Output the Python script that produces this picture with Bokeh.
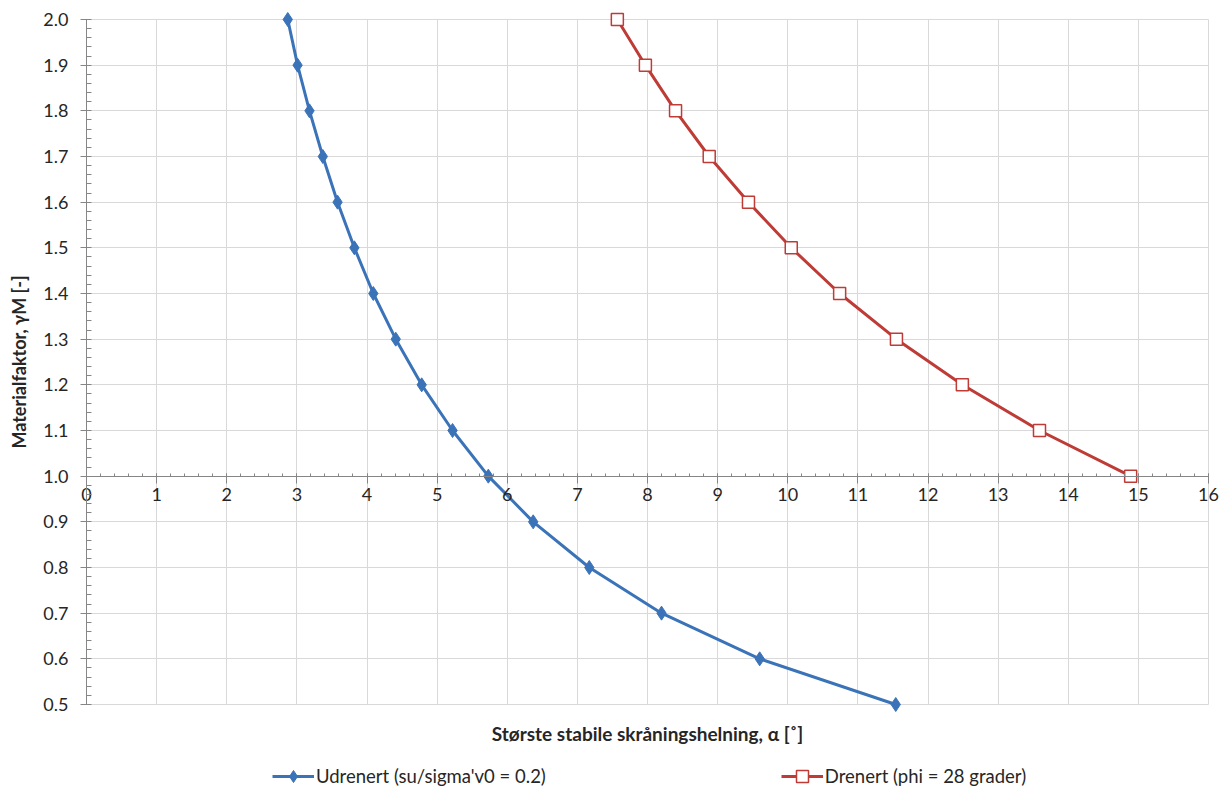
import math
from bokeh.plotting import figure
from bokeh.models import Legend, LegendItem, NumeralTickFormatter, FixedTicker, Label
from bokeh.embed import file_html
from bokeh.resources import INLINE

# Data
gamma_udrenert = [2.0, 1.9, 1.8, 1.7, 1.6, 1.5, 1.4, 1.3, 1.2, 1.1, 1.0, 0.9, 0.8, 0.7, 0.6, 0.5]
alpha_udrenert = [2.87, 3.01, 3.18, 3.37, 3.58, 3.82, 4.09, 4.41, 4.78, 5.22, 5.73, 6.37, 7.17, 8.20, 9.60, 11.54]
gamma_drenert = [2.0, 1.9, 1.8, 1.7, 1.6, 1.5, 1.4, 1.3, 1.2, 1.1, 1.0]
alpha_drenert = [7.57, 7.97, 8.40, 8.88, 9.44, 10.05, 10.74, 11.55, 12.49, 13.59, 14.89]
x_ticks = list(range(0, 17))
y_ticks = [0.5, 0.6, 0.7, 0.8, 0.9, 1.0, 1.1, 1.2, 1.3, 1.4, 1.5, 1.6, 1.7, 1.8, 1.9, 2.0]
label_udrenert = "Udrenert (su/sigma'v0 = 0.2)"
label_drenert = "Drenert (phi = 28 grader)"
x_title = "Største stabile skråningshelning, α [˚]"
y_title = "Materialfaktor, γM [-]"

FONT = "Lato"
BLUE = "#3b73b9"
RED = "#be3b36"
GRID = "#d9d9d9"
AXIS = "#868686"
TXT = "#262626"

# Layout: the frame covers the whole canvas; plot area is x 86..1208 px, y 19..704 px
W, H = 1225, 787
PL, PR, PT, PB = 86, 1208, 19, 704
X_MIN, X_MAX = x_ticks[0], x_ticks[-1]
Y_MIN, Y_MAX = y_ticks[0], y_ticks[-1]
sx = (PR - PL) / (X_MAX - X_MIN)
sy = (PB - PT) / (Y_MAX - Y_MIN)
x_range = (X_MIN - PL / sx, X_MAX + (W - PR) / sx)
y_range = (Y_MAX - (H - PT) / sy, Y_MAX + PT / sy)

p = figure(frame_width=W, frame_height=H, x_range=x_range, y_range=y_range,
           output_backend="svg", toolbar_location=None,
           min_border_left=0, min_border_right=0, min_border_top=0, min_border_bottom=0)
p.outline_line_color = None
p.background_fill_color = "white"
p.border_fill_color = "white"

# grids
p.xgrid.ticker = FixedTicker(ticks=x_ticks)
p.ygrid.ticker = FixedTicker(ticks=y_ticks)
p.grid.grid_line_color = GRID
p.grid.grid_line_width = 1
p.xgrid.cross_bounds = (Y_MIN, Y_MAX)
p.ygrid.cross_bounds = (X_MIN, X_MAX)

# x axis crossing at y = 1.0
xa = p.xaxis[0]
xa.fixed_location = 1.0
xa.bounds = (X_MIN, X_MAX)
xa.ticker = FixedTicker(ticks=x_ticks, minor_ticks=[i * 0.2 for i in range(81)])
xa.axis_line_color = AXIS
xa.major_tick_line_color = AXIS
xa.minor_tick_line_color = AXIS
xa.major_tick_in = 3
xa.major_tick_out = 7
xa.minor_tick_in = 3
xa.minor_tick_out = 0
xa.major_label_text_font = FONT
xa.major_label_text_font_size = "18px"
xa.major_label_text_color = TXT
xa.major_label_standoff = 5

# y axis at x = 0
ya = p.yaxis[0]
ya.fixed_location = 0
ya.bounds = (Y_MIN, Y_MAX)
ya.ticker = FixedTicker(ticks=y_ticks, minor_ticks=[0.5 + i * 0.02 for i in range(76)])
ya.formatter = NumeralTickFormatter(format="0.0")
ya.axis_line_color = AXIS
ya.major_tick_line_color = AXIS
ya.minor_tick_line_color = AXIS
ya.major_tick_in = 4
ya.major_tick_out = 6
ya.minor_tick_in = 5
ya.minor_tick_out = 0
ya.major_label_text_font = FONT
ya.major_label_text_font_size = "18px"
ya.major_label_text_color = TXT
ya.major_label_standoff = 12

# series
l1 = p.line(alpha_udrenert, gamma_udrenert, line_color=BLUE, line_width=3)
m1 = p.scatter(alpha_udrenert, gamma_udrenert, marker="diamond", size=14,
               fill_color=BLUE, line_color=BLUE)
l2 = p.line(alpha_drenert, gamma_drenert, line_color=RED, line_width=3)
m2 = p.scatter(alpha_drenert, gamma_drenert, marker="square", size=12,
               fill_color="white", line_color=RED, line_width=1.5)

# axis titles
p.add_layout(Label(x=(X_MIN + X_MAX) / 2, y=Y_MAX - (733 - PT) / sy, text=x_title,
                   text_align="center", text_baseline="middle",
                   text_font=FONT, text_font_size="19px", text_font_style="bold",
                   text_color=TXT))
p.add_layout(Label(x=X_MIN - (PL - 18) / sx, y=(Y_MIN + Y_MAX) / 2, text=y_title,
                   angle=math.pi / 2, text_align="center", text_baseline="middle",
                   text_font=FONT, text_font_size="18px", text_font_style="bold",
                   text_color=TXT))

legend = Legend(items=[LegendItem(label=label_udrenert, renderers=[l1, m1]),
                       LegendItem(label=label_drenert, renderers=[l2, m2])],
                orientation="horizontal", location=(272, -4),
                spacing=235, glyph_width=42, glyph_height=30, label_standoff=2,
                label_text_font=FONT, label_text_font_size="18.5px",
                label_text_color=TXT, border_line_color=None,
                background_fill_alpha=0, padding=0, margin=0)
p.add_layout(legend, "center")

open("out.html", "w").write(file_html(p, INLINE))
